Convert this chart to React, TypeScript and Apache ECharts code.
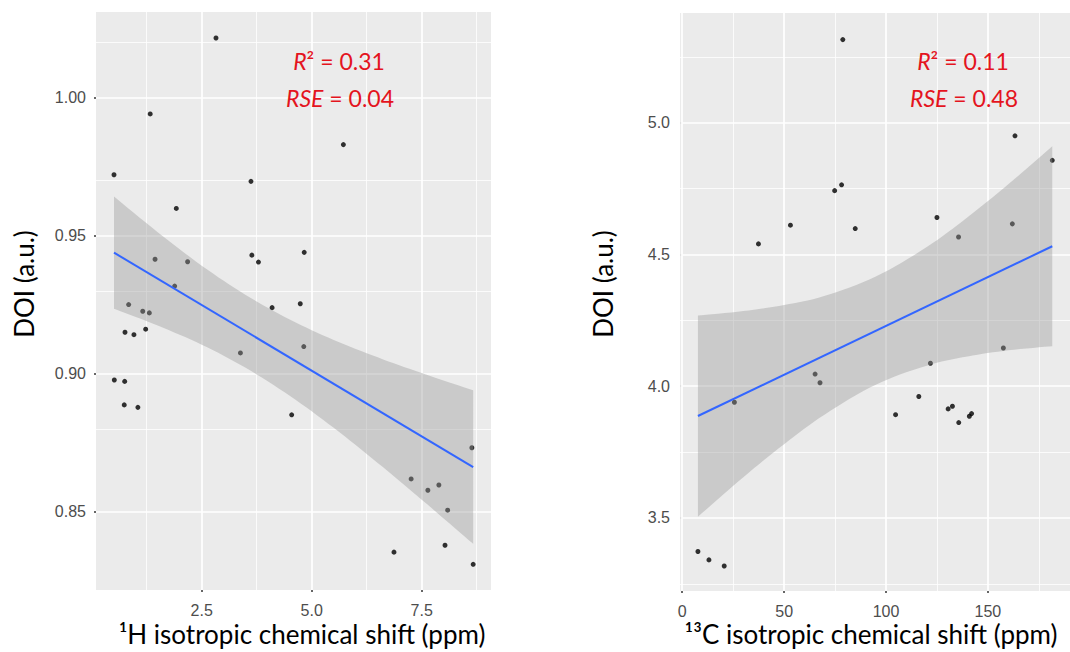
import React, { useEffect, useRef } from "react";
import * as echarts from "echarts";

// ---- Left panel: 1H shift vs DOI ----
const hShift = [2.825, 1.33, 0.507, 3.62, 5.72, 1.923, 1.44, 2.18, 1.886, 3.64, 3.79, 4.83, 0.84, 1.16, 1.31, 0.757, 0.96, 1.227, 4.1, 4.74, 3.38, 4.82, 0.514, 0.75, 0.74, 1.05, 4.545, 8.64, 7.26, 7.64, 7.89, 8.09, 8.03, 6.87, 8.67];
const hDoi = [1.0215, 0.994, 0.972, 0.9696, 0.9829, 0.9598, 0.9414, 0.9405, 0.9317, 0.9429, 0.9404, 0.9439, 0.925, 0.9226, 0.922, 0.915, 0.9141, 0.9161, 0.9239, 0.9253, 0.9075, 0.9098, 0.8977, 0.8972, 0.8887, 0.8878, 0.8851, 0.8732, 0.8619, 0.8578, 0.8597, 0.8506, 0.8379, 0.8354, 0.831];
const hFitX = [0.507, 8.67];
const hFitY = [0.9438, 0.8662];
const hBandX = [0.507, 1.5, 2.5, 3.5, 4.5, 5.5, 6.5, 7.5, 8.67];
const hBandLow = [0.9235, 0.9174, 0.9105, 0.9021, 0.892, 0.8804, 0.8677, 0.8544, 0.8384];
const hBandHigh = [0.9641, 0.9512, 0.9391, 0.9285, 0.9196, 0.9122, 0.9059, 0.9002, 0.894];
const hXTicks = [2.5, 5.0, 7.5];
const hXMinor = [1.25, 3.75, 6.25, 8.75];
const hYTicks = [0.85, 0.9, 0.95, 1.0];
const hYMinor = [0.825, 0.875, 0.925, 0.975, 1.025];

// ---- Right panel: 13C shift vs DOI ----
const cShift = [78.8, 163.3, 181.6, 74.8, 78.2, 53.1, 37.4, 84.9, 125.0, 135.6, 162.0, 157.6, 121.8, 65.2, 67.6, 25.6, 116.1, 104.7, 130.5, 132.6, 135.7, 140.9, 142.0, 7.7, 13.1, 20.6];
const cDoi = [5.315, 4.95, 4.857, 4.742, 4.764, 4.611, 4.54, 4.598, 4.64, 4.566, 4.616, 4.145, 4.087, 4.046, 4.013, 3.939, 3.961, 3.892, 3.914, 3.924, 3.862, 3.886, 3.896, 3.373, 3.341, 3.318];
const cFitX = [7.7, 181.6];
const cFitY = [3.887, 4.531];
const cBandX = [7.7, 30, 50, 70, 95, 120, 140, 160, 181.6];
const cBandLow = [3.505, 3.655, 3.78, 3.893, 4.006, 4.078, 4.113, 4.136, 4.152];
const cBandHigh = [4.268, 4.285, 4.308, 4.343, 4.416, 4.528, 4.641, 4.766, 4.91];
const cXTicks = [0, 50, 100, 150];
const cXMinor = [25, 75, 125, 175];
const cYTicks = [3.5, 4.0, 4.5, 5.0];
const cYMinor = [3.25, 3.75, 4.25, 4.75, 5.25];

const leftStats = ["0.31", "0.04"];
const rightStats = ["0.11", "0.48"];

const RED = "#E4141E";
const TICKFONT = "Liberation Sans";
const TITLEFONT = "Lato";

function gridLines(xMajor: number[], xMinor: number[], yMajor: number[], yMinor: number[]) {
  const major = { color: "#FFFFFF", width: 1.7, type: "solid" };
  const minor = { color: "#FFFFFF", width: 0.8, type: "solid" };
  return [
    ...xMinor.map((v) => ({ xAxis: v, lineStyle: minor })),
    ...yMinor.map((v) => ({ yAxis: v, lineStyle: minor })),
    ...xMajor.map((v) => ({ xAxis: v, lineStyle: major })),
    ...yMajor.map((v) => ({ yAxis: v, lineStyle: major })),
  ];
}

// Catmull-Rom smoothing of a pixel polyline (rendering only)
function smoothPixels(pts: number[][], steps = 8) {
  const out: number[][] = [];
  const n = pts.length;
  for (let i = 0; i < n - 1; i++) {
    const p0 = pts[Math.max(i - 1, 0)];
    const p1 = pts[i];
    const p2 = pts[i + 1];
    const p3 = pts[Math.min(i + 2, n - 1)];
    for (let s = 0; s < steps; s++) {
      const t = s / steps;
      const t2 = t * t;
      const t3 = t2 * t;
      const f = (a: number, b: number, c: number, d: number) =>
        0.5 * (2 * b + (-a + c) * t + (2 * a - 5 * b + 4 * c - d) * t2 + (-a + 3 * b - 3 * c + d) * t3);
      out.push([f(p0[0], p1[0], p2[0], p3[0]), f(p0[1], p1[1], p2[1], p3[1])]);
    }
  }
  out.push(pts[n - 1]);
  return out;
}

function bandSeries(idx: number, bx: number[], lo: number[], hi: number[]) {
  return {
    type: "custom",
    xAxisIndex: idx,
    yAxisIndex: idx,
    z: 3,
    silent: true,
    data: bx.map((x, i) => [x, lo[i], hi[i]]),
    renderItem: (params: any, api: any) => {
      if (params.dataIndex !== 0) return null;
      const upper = smoothPixels(bx.map((x, i) => api.coord([x, hi[i]])));
      const lower = smoothPixels(bx.map((x, i) => api.coord([x, lo[i]]))).reverse();
      return {
        type: "polygon",
        shape: { points: upper.concat(lower) },
        style: { fill: "rgba(153,153,153,0.4)", stroke: "none" },
      };
    },
  };
}

function xAxisCfg(idx: number, min: number, max: number, ticks: number[], fmt: (v: number) => string) {
  return {
    type: "value",
    gridIndex: idx,
    min,
    max,
    axisLine: { show: false },
    splitLine: { show: false },
    axisTick: { show: true, length: 2, customValues: ticks, lineStyle: { color: "#333333", width: 1.5 } },
    axisLabel: { customValues: ticks, formatter: fmt, color: "#4D4D4D", fontSize: 16, fontFamily: TICKFONT, margin: 12 },
  };
}

function yAxisCfg(idx: number, min: number, max: number, ticks: number[], fmt: (v: number) => string) {
  return {
    type: "value",
    gridIndex: idx,
    min,
    max,
    axisLine: { show: false },
    splitLine: { show: false },
    axisTick: { show: true, length: 2, customValues: ticks, lineStyle: { color: "#333333", width: 1.5 } },
    axisLabel: { customValues: ticks, formatter: fmt, color: "#4D4D4D", fontSize: 16, fontFamily: TICKFONT, margin: 10 },
  };
}

function statText(x: number, y: number, label: string, value: string) {
  return {
    type: "text",
    x,
    y,
    z: 10,
    style: {
      text: `{i|${label}}{n|${label === "R" ? "²" : ""} = ${value}}`,
      align: "center",
      verticalAlign: "middle",
      rich: {
        i: { fontFamily: TITLEFONT, fontStyle: "italic", fontSize: 23, fill: RED },
        n: { fontFamily: TITLEFONT, fontSize: 23, fill: RED },
      },
    },
  };
}

export default function App() {
  const ref = useRef<HTMLDivElement>(null);
  useEffect(() => {
    if (!ref.current) return;
    const chart = echarts.init(ref.current, undefined, { renderer: "svg" });
    const option: any = {
      animation: false,
      backgroundColor: "#FFFFFF",
      grid: [
        { left: 96, top: 12, width: 395, height: 578, show: true, backgroundColor: "#EBEBEB", borderWidth: 0 },
        { left: 680, top: 13, width: 399, height: 578, show: true, backgroundColor: "#EBEBEB", borderWidth: 0 },
      ],
      xAxis: [
        xAxisCfg(0, 0.098, 9.075, hXTicks, (v) => v.toFixed(1)),
        xAxisCfg(1, -1.1, 190.3, cXTicks, (v) => String(v)),
      ],
      yAxis: [
        yAxisCfg(0, 0.8217, 1.0309, hYTicks, (v) => v.toFixed(2)),
        yAxisCfg(1, 3.223, 5.416, cYTicks, (v) => v.toFixed(1)),
      ],
      series: [
        {
          type: "line",
          xAxisIndex: 0,
          yAxisIndex: 0,
          data: [],
          silent: true,
          markLine: { silent: true, symbol: "none", z: 1, label: { show: false }, data: gridLines(hXTicks, hXMinor, hYTicks, hYMinor) },
        },
        {
          type: "line",
          xAxisIndex: 1,
          yAxisIndex: 1,
          data: [],
          silent: true,
          markLine: { silent: true, symbol: "none", z: 1, label: { show: false }, data: gridLines(cXTicks, cXMinor, cYTicks, cYMinor) },
        },
        {
          type: "scatter",
          xAxisIndex: 0,
          yAxisIndex: 0,
          z: 2,
          symbolSize: 5,
          itemStyle: { color: "#000000" },
          data: hShift.map((x, i) => [x, hDoi[i]]),
        },
        {
          type: "scatter",
          xAxisIndex: 1,
          yAxisIndex: 1,
          z: 2,
          symbolSize: 5,
          itemStyle: { color: "#000000" },
          data: cShift.map((x, i) => [x, cDoi[i]]),
        },
        bandSeries(0, hBandX, hBandLow, hBandHigh),
        bandSeries(1, cBandX, cBandLow, cBandHigh),
        {
          type: "line",
          xAxisIndex: 0,
          yAxisIndex: 0,
          z: 4,
          showSymbol: false,
          lineStyle: { color: "#3366FF", width: 2 },
          data: hFitX.map((x, i) => [x, hFitY[i]]),
        },
        {
          type: "line",
          xAxisIndex: 1,
          yAxisIndex: 1,
          z: 4,
          showSymbol: false,
          lineStyle: { color: "#3366FF", width: 2 },
          data: cFitX.map((x, i) => [x, cFitY[i]]),
        },
      ],
      graphic: [
        statText(339, 61, "R", leftStats[0]),
        statText(340, 97.5, "RSE", leftStats[1]),
        statText(963, 61, "R", rightStats[0]),
        statText(964, 97.5, "RSE", rightStats[1]),
        {
          type: "text",
          x: 302,
          y: 634,
          style: { text: "¹H isotropic chemical shift (ppm)", font: `26px ${TITLEFONT}`, fill: "#000000", align: "center", verticalAlign: "middle" },
        },
        {
          type: "text",
          x: 871,
          y: 634,
          style: { text: "¹³C isotropic chemical shift (ppm)", font: `26px ${TITLEFONT}`, fill: "#000000", align: "center", verticalAlign: "middle" },
        },
        {
          type: "text",
          x: 24,
          y: 284,
          rotation: Math.PI / 2,
          style: { text: "DOI (a.u.)", font: `26px ${TITLEFONT}`, fill: "#000000", align: "center", verticalAlign: "middle" },
        },
        {
          type: "text",
          x: 603,
          y: 284,
          rotation: Math.PI / 2,
          style: { text: "DOI (a.u.)", font: `26px ${TITLEFONT}`, fill: "#000000", align: "center", verticalAlign: "middle" },
        },
      ],
    };
    chart.setOption(option);
    return () => chart.dispose();
  }, []);
  return <div ref={ref} style={{ position: "absolute", left: 0, top: 0, width: 1070, height: 652 }} />;
}
